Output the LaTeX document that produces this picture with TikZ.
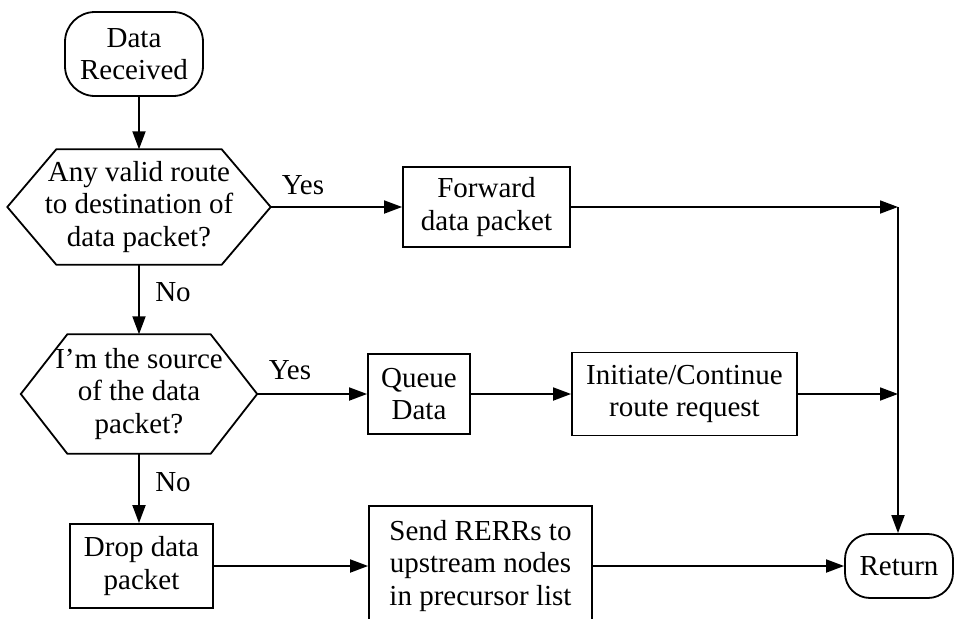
\documentclass[tikz,border=0pt]{standalone}
\usepackage{fontspec}
\setmainfont{Liberation Serif}
\usetikzlibrary{arrows.meta}
\begin{document}
\begin{tikzpicture}[x=1pt, y=-1pt,
  every node/.style={font=\fontsize{29}{32.5}\selectfont, align=center, inner sep=0pt},
  edge/.style={line width=1.8pt},
  flow/.style={edge, -{Triangle[length=18pt, width=13pt]}},
  terminal/.style={draw, line width=1.8pt, rounded corners=30pt},
  procbox/.style={draw, line width=1.8pt},
  decision/.style={draw=none},
  lbl/.style={}
]
\useasboundingbox (0,0) rectangle (954,619);
\clip (0,0) rectangle (954,619);

% terminals
\node[terminal, minimum width=138pt, minimum height=84pt] (start) at (134,54) {Data\\Received};
\node[terminal, rounded corners=25pt, minimum width=108pt, minimum height=64pt] (ret) at (899,566) {Return};

% decisions (hexagons drawn around the text nodes)
\node[decision, minimum width=263pt, minimum height=115pt] (q1) at (139,207)
  {Any valid route\\to destination of\\data packet?};
\draw[edge, line join=miter] (q1.west) -- ([xshift=49pt]q1.north west) -- ([xshift=-49pt]q1.north east)
  -- (q1.east) -- ([xshift=-49pt]q1.south east) -- ([xshift=49pt]q1.south west) -- cycle;

\node[decision, minimum width=236pt, minimum height=119pt] (q2) at (139,394)
  {I'm the source\\of the data\\packet?};
\draw[edge, line join=miter] (q2.west) -- ([xshift=46.5pt]q2.north west) -- ([xshift=-46.5pt]q2.north east)
  -- (q2.east) -- ([xshift=-46.5pt]q2.south east) -- ([xshift=46.5pt]q2.south west) -- cycle;

% process boxes
\node[procbox, minimum width=167pt, minimum height=80pt] (fwd) at (486.5,207) {Forward\\data packet};
\node[procbox, minimum width=102pt, minimum height=80pt] (queue) at (419,394) {Queue\\Data};
\node[procbox, minimum width=225pt, minimum height=83pt] (init) at (684.5,394) {Initiate/Continue\\route request};
\node[procbox, minimum width=143pt, minimum height=84pt] (drop) at (141.5,566) {Drop data\\packet};
\node[procbox, minimum width=223pt, minimum height=120pt] (send) at (480.5,566)
  {Send RERRs to\\upstream nodes\\in precursor list};

% junction points on the return bus
\coordinate (j1) at (898,207);
\coordinate (j2) at (898,394);

% edge labels
\node[lbl] (yes1) at (303,185) {Yes};
\node[lbl] (no1) at (173,292) {No};
\node[lbl] (yes2) at (290,370) {Yes};
\node[lbl] (no2) at (173,482) {No};

% connectors
\draw[flow] (start.south -| q1.north) -- (q1.north);
\draw[flow] (q1.east) -- (fwd.west);
\draw[flow] (q1.south) -- (q2.north);
\draw[flow] (q2.east) -- (queue.west);
\draw[flow] (queue.east) -- (init.west);
\draw[flow] (q2.south) -- (q2.south |- drop.north);
\draw[flow] (drop.east) -- (send.west);
\draw[flow] (send.east) -- (ret.west);
\draw[flow] (fwd.east) -- (j1);
\draw[flow] (init.east) -- (j2);
\draw[flow] (j1) -- (j1 |- ret.north);
\end{tikzpicture}
\end{document}
